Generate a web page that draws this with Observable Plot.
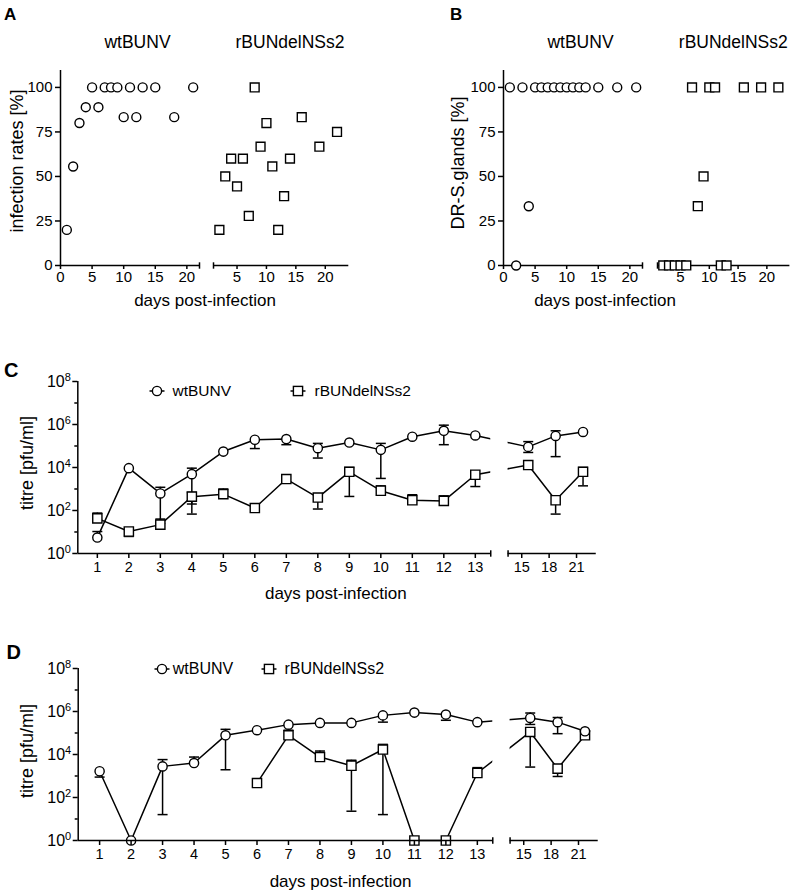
<!DOCTYPE html>
<html><head><meta charset="utf-8">
<script src="https://cdn.jsdelivr.net/npm/d3@7"></script>
<script src="https://cdn.jsdelivr.net/npm/@observablehq/plot@0.6"></script>
<style>
body{margin:0;background:#fff;}
#root{position:relative;width:796px;height:895px;overflow:hidden;background:#fff;font-family:"Liberation Sans",Arial,sans-serif;color:#000;}
.t{position:absolute;white-space:nowrap;line-height:1;}
</style></head><body><div id="root"></div>
<script>
// ---------- DATA ----------
// Panel A: infection rates [%]
const wtDaysA = [1,2,3,4,5,6,7,8,9,10,11,12,13,15,18,21];
const wtInfA  = [20,55.6,80,88.9,100,88.9,100,100,100,83.3,100,83.3,100,100,83.3,100];
const delDaysA = [2,3,4,5,6,7,8,9,10,11,12,13,14,16,19,22];
const delInfA  = [20,50,60,44.4,60,27.8,100,66.7,80,55.6,20,38.9,60,83.3,66.7,75];
// Panel B: DR-S.glands [%]
const wtDaysB = [1,2,3,4,5,6,7,8,9,10,11,12,13,15,18,21];
const wtSgB   = [100,0,100,33.3,100,100,100,100,100,100,100,100,100,100,100,100];
const delDaysB = [2,3,4,5,6,7,8,9,10,11,12,13,16,19,22];
const delSgB   = [0,0,0,0,0,100,33.3,50,100,100,0,0,100,100,100];
const pctTicks = [0,25,50,75,100];
const dayTicksL = [0,5,10,15,20];
const dayTicksR = [5,10,15,20];
// Panels C & D: titre [pfu/ml]
const daysT = [1,2,3,4,5,6,7,8,9,10,11,12,13,15,18,21];
const wtC    = [5.5,9300,620,4900,55000,195000,210000,79000,145000,66000,270000,510000,310000,91000,295000,450000];
const wtC_hi = [10.5,null,1200,9300,null,null,null,132000,null,132000,null,930000,null,160000,510000,null];
const wtC_lo = [null,null,25,68,null,76000,115000,27500,null,3100,null,115000,null,50000,32000,null];
const delC    = [43,10.5,22,440,575,130,2900,400,6300,830,300,280,4600,13000,300,6300];
const delC_hi = [76,null,40,690,1000,null,null,null,10000,1400,540,480,null,null,null,10000];
const delC_lo = [null,6.2,null,200,null,null,null,117,450,null,null,null,1300,null,68,1400];
const wtD    = [1660,1,2800,4000,78000,135000,245000,295000,295000,660000,890000,720000,320000,500000,320000,120000];
const wtD_hi = [null,null,5800,7600,148000,null,null,null,null,null,null,null,null,850000,525000,null];
const wtD_lo = [890,null,16,null,1950,null,null,null,null,320000,null,390000,null,250000,93000,null];
const delD    = [null,null,null,null,null,470,78000,7600,3000,17000,1,1,1380,112000,2200,78000];
const delD_hi = [null,null,null,null,null,null,135000,14500,5400,29500,null,null,2450,150000,null,null];
const delD_lo = [null,null,null,null,null,null,null,null,23,16,null,null,null,2600,950,null];
const titreMajor = [1,1e2,1e4,1e6,1e8];
const titreMinor = [10,1e3,1e5,1e7];
const dayCatsL = [1,2,3,4,5,6,7,8,9,10,11,12,13];
const dayCatsR = [15,18,21];

// ---------- HELPERS ----------
const root = document.getElementById("root");
const FONT = '"Liberation Sans", Arial, sans-serif';
const style = {fontFamily: FONT, fontSize: "15px", color: "#000", background: "transparent", overflow: "visible"};
function txt(s, x, y, o = {}) {
  const d = document.createElement("div");
  d.className = "t"; d.textContent = s;
  d.style.left = x + "px"; d.style.top = y + "px";
  d.style.fontSize = (o.size || 17) + "px";
  if (o.bold) d.style.fontWeight = "bold";
  const ax = o.anchor === "start" ? "0" : "-50%";
  d.style.transform = `translate(${ax},-50%)` + (o.rotate ? " rotate(-90deg)" : "");
  root.appendChild(d);
}
function place(el, left, top) {
  el.style.position = "absolute"; el.style.left = left + "px"; el.style.top = top + "px";
  root.appendChild(el);
}
const capSym = {draw(ctx, size) { const w = Math.sqrt(size / Math.PI); ctx.moveTo(-w, 0); ctx.lineTo(w, 0); }};
const vbarSym = {draw(ctx, size) { const w = Math.sqrt(size / Math.PI); ctx.moveTo(0, -w); ctx.lineTo(0, w); }};
const SW = 1.5;

// ---------- PANELS A & B ----------
function scatterSub({days, vals, symbol, r, xDomain, xTicks, showY, capX, mL, w, h}) {
  const data = days.map((d, i) => ({d, v: vals[i]}));
  const marks = [
    Plot.ruleY([0], {strokeWidth: SW}),
    Plot.dot([capX], {x: d => d, y: () => 0, symbol: vbarSym, r: 3.2, stroke: "black", fill: "none", strokeWidth: SW}),
    Plot.axisX({ticks: xTicks, tickSize: 4, tickPadding: 2, label: null, strokeWidth: SW, fontSize: 15})
  ];
  if (showY) {
    marks.push(Plot.ruleX([xDomain[0]], {strokeWidth: SW}));
    marks.push(Plot.axisY({ticks: pctTicks, tickSize: 5, tickPadding: 3, label: null, strokeWidth: SW, fontSize: 15}));
  } else {
    marks.push(Plot.axisY({ticks: [], label: null}));
  }
  marks.push(Plot.dot(data, {x: "d", y: "v", symbol, r, stroke: "black", fill: "white", strokeWidth: 1.4}));
  return Plot.plot({
    width: w, height: h, marginLeft: mL, marginRight: 6, marginTop: 10, marginBottom: 30,
    x: {domain: xDomain}, y: {domain: [0, 109.5]}, style, marks
  });
}
// A
place(scatterSub({days: wtDaysA, vals: wtInfA, symbol: "circle", r: 4.5, xDomain: [0, 22], xTicks: dayTicksL, showY: true, capX: 22, mL: 60, w: 205, h: 235}), 0, 60);
place(scatterSub({days: delDaysA, vals: delInfA, symbol: "square", r: 5, xDomain: [1, 24], xTicks: dayTicksR, showY: false, capX: 1, mL: 8, w: 149.3, h: 235}), 205, 60);
// B
place(scatterSub({days: wtDaysB, vals: wtSgB, symbol: "circle", r: 4.5, xDomain: [0, 22], xTicks: dayTicksL, showY: true, capX: 22, mL: 60, w: 205, h: 235}), 442.7, 60);
place(scatterSub({days: delDaysB, vals: delSgB, symbol: "square", r: 5, xDomain: [1, 24], xTicks: dayTicksR, showY: false, capX: 1, mL: 8, w: 146.4, h: 235}), 649.3, 60);

txt("A", 4, 14, {size: 17, bold: true, anchor: "start"});
txt("B", 450, 14, {size: 17, bold: true, anchor: "start"});
txt("wtBUNV", 137.5, 43.3, {size: 17.5});
txt("rBUNdelNSs2", 290, 43.3, {size: 17.5});
txt("wtBUNV", 580.5, 43.3, {size: 17.5});
txt("rBUNdelNSs2", 733.3, 43.3, {size: 17.5});
txt("infection rates [%]", 17, 160.5, {size: 18, rotate: true});
txt("DR-S.glands [%]", 458, 163, {size: 18, rotate: true});
txt("days post-infection", 205, 300, {size: 17});
txt("days post-infection", 605, 300, {size: 17});

// ---------- PANELS C & D ----------
const xpos = d => d <= 13 ? d : 14.68 + (d - 15) * 0.29;
const BRK0 = 13.49, BRK1 = 14.04, XEND = 16.84;
const rightLabel = new Map(dayCatsR.map(d => [xpos(d), d]));
function titrePanel({x0, mL, unit, wt, wtLo, wtHi, del, delLo, delHi}) {
  const mk = (v, lo, hi) => daysT.map((d, i) => ({xp: xpos(d), v: v[i], lo: lo[i], hi: hi[i]}));
  const W = mk(wt, wtLo, wtHi), R = mk(del, delLo, delHi);
  const err = rows => {
    const hi = rows.filter(r => r.v != null && r.hi != null);
    const lo = rows.filter(r => r.v != null && r.lo != null);
    return [
      Plot.ruleX(hi, {x: "xp", y1: "v", y2: "hi", strokeWidth: SW}),
      Plot.dot(hi, {x: "xp", y: "hi", symbol: capSym, r: 5, stroke: "black", fill: "none", strokeWidth: SW}),
      Plot.ruleX(lo, {x: "xp", y1: "v", y2: "lo", strokeWidth: SW}),
      Plot.dot(lo, {x: "xp", y: "lo", symbol: capSym, r: 5, stroke: "black", fill: "none", strokeWidth: SW})
    ];
  };
  const width = mL + (XEND - x0) * unit + 10;
  const svg = Plot.plot({
    width, height: 212, marginLeft: mL, marginRight: 10, marginTop: 10, marginBottom: 30,
    x: {domain: [x0, XEND]}, y: {type: "log", domain: [1, 1e8]}, style,
    marks: [
      ...err(R), ...err(W),
      Plot.line(R, {x: "xp", y: "v", stroke: "black", strokeWidth: SW}),
      Plot.line(W, {x: "xp", y: "v", stroke: "black", strokeWidth: SW}),
      Plot.dot(R.filter(r => r.v != null), {x: "xp", y: "v", symbol: "square", r: 5.2, stroke: "black", fill: "white", strokeWidth: 1.4}),
      Plot.dot(W.filter(r => r.v != null), {x: "xp", y: "v", symbol: "circle", r: 4.6, stroke: "black", fill: "white", strokeWidth: 1.4}),
      Plot.rect([{a: BRK0, b: BRK1}], {x1: "a", x2: "b", y1: () => 1, y2: () => 1e8, fill: "white"}),
      Plot.ruleY([1], {x1: () => x0, x2: () => BRK0, strokeWidth: SW}),
      Plot.ruleY([1], {x1: () => BRK1, x2: () => XEND, strokeWidth: SW}),
      Plot.ruleX([x0], {strokeWidth: SW}),
      Plot.dot([BRK0, BRK1], {x: d => d, y: () => 1, symbol: vbarSym, r: 3.2, stroke: "black", fill: "none", strokeWidth: SW}),
      Plot.axisY({ticks: titreMajor, tickFormat: d => "10^" + Math.round(Math.log10(d)), tickSize: 5, tickPadding: 2, label: null, strokeWidth: SW, fontSize: 16}),
      Plot.axisY({ticks: titreMinor, tickFormat: () => "", tickSize: 3, label: null, strokeWidth: SW}),
      Plot.axisX({ticks: dayCatsL, tickSize: 5, tickPadding: 3, label: null, strokeWidth: SW, fontSize: 14.5}),
      Plot.axisX({ticks: dayCatsR.map(xpos), tickFormat: v => String(rightLabel.get(v)), dx: -6.5, tickSize: 5, tickPadding: 3, label: null, strokeWidth: SW, fontSize: 14.5})
    ]
  });
  svg.querySelectorAll('g[aria-label="y-axis tick label"] text').forEach(t => {
    const s = t.textContent;
    if (!s.includes("^")) return;
    const [b, e] = s.split("^");
    t.textContent = b;
    const ts = document.createElementNS("http://www.w3.org/2000/svg", "tspan");
    ts.setAttribute("dy", "-0.5em"); ts.setAttribute("font-size", "11");
    ts.textContent = e;
    t.appendChild(ts);
  });
  return svg;
}
place(titrePanel({x0: 0.38, mL: 77.3, unit: 31.5, wt: wtC, wtLo: wtC_lo, wtHi: wtC_hi, del: delC, delLo: delC_lo, delHi: delC_hi}), 0, 370.7);
place(titrePanel({x0: 0.32, mL: 77.7, unit: 31.48, wt: wtD, wtLo: wtD_lo, wtHi: wtD_hi, del: delD, delLo: delD_lo, delHi: delD_hi}), 0, 658.3);

function legendItem(cx, cy, sym, label, tx, size) {
  const NS = "http://www.w3.org/2000/svg";
  const s = document.createElementNS(NS, "svg");
  s.setAttribute("width", 22); s.setAttribute("height", 14);
  const ln = document.createElementNS(NS, "line");
  ln.setAttribute("x1", 3.5); ln.setAttribute("x2", 18.5); ln.setAttribute("y1", 7); ln.setAttribute("y2", 7);
  ln.setAttribute("stroke", "black"); ln.setAttribute("stroke-width", SW);
  s.appendChild(ln);
  let m;
  if (sym === "circle") {
    m = document.createElementNS(NS, "circle");
    m.setAttribute("cx", 11); m.setAttribute("cy", 7); m.setAttribute("r", 4.6);
  } else {
    m = document.createElementNS(NS, "rect");
    m.setAttribute("x", 6.4); m.setAttribute("y", 2.4); m.setAttribute("width", 9.2); m.setAttribute("height", 9.2);
  }
  m.setAttribute("fill", "white"); m.setAttribute("stroke", "black"); m.setAttribute("stroke-width", 1.4);
  s.appendChild(m);
  place(s, cx - 11, cy - 7);
  txt(label, tx, cy, {size, anchor: "start"});
}
legendItem(156.7, 391, "circle", "wtBUNV", 172.5, 15.5);
legendItem(298.3, 391, "square", "rBUNdelNSs2", 314.5, 15.5);
legendItem(162, 669.3, "circle", "wtBUNV", 172.8, 16);
legendItem(269.3, 669.3, "square", "rBUNdelNSs2", 284.5, 16);

txt("C", 4, 369.7, {size: 20, bold: true, anchor: "start"});
txt("D", 6.5, 652, {size: 20, bold: true, anchor: "start"});
txt("titre [pfu/ml]", 26.7, 462.5, {size: 18, rotate: true});
txt("titre [pfu/ml]", 26.5, 750.7, {size: 18, rotate: true});
txt("days post-infection", 335.8, 593, {size: 17});
txt("days post-infection", 340.5, 881, {size: 17});
</script></body></html>
